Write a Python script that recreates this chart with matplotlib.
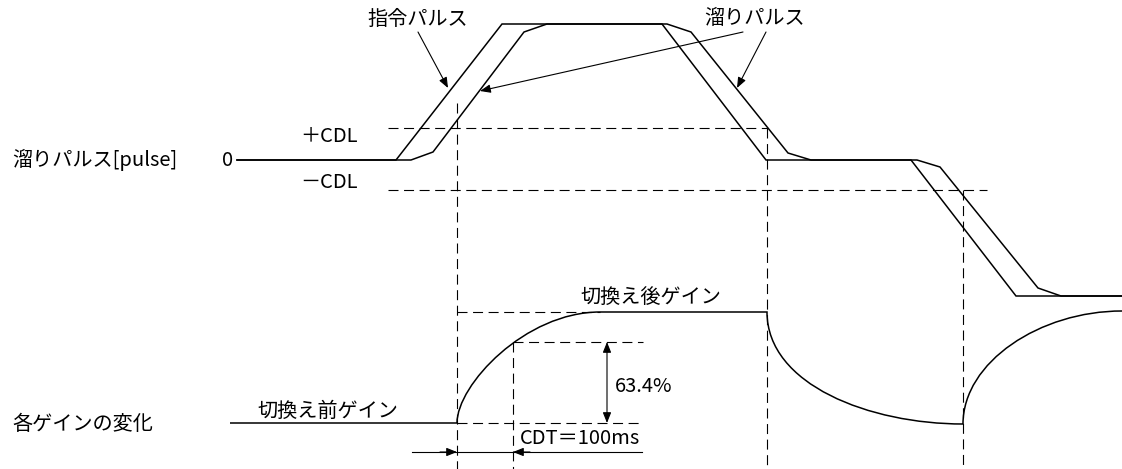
import matplotlib
matplotlib.use("Agg")
from matplotlib import pyplot as plt
from matplotlib.path import Path
from matplotlib.patches import PathPatch

plt.rcParams['font.family'] = ['Noto Sans CJK JP', 'DejaVu Sans']

# diagram units: x = time axis, y = screen position (drawn with y inverted)
cmd_x = [237, 396, 502, 662, 766, 911, 1016, 1122]   # 指令パルス
cmd_y = [160, 160, 24, 24, 160, 160, 296, 296]

droop_x = [237, 411, 433, 524, 547, 667, 691, 788, 811, 917, 940, 1038, 1061, 1122]  # 溜りパルス
droop_y = [160, 160, 152, 32, 24, 24, 32, 153, 160, 160, 167, 288, 296, 296]

# gain curve: start point, then segments (kind, points)
gain_start = (230, 423)
gain_segments = [
    ('line', [(457, 423)]),
    ('curve', [(457, 385), (525, 312), (600, 312)]),
    ('line', [(767, 312)]),
    ('curve', [(767, 385), (870, 424), (963, 424)]),
    ('curve', [(963, 362), (1040, 311), (1122, 311)]),
]

cdl_plus, cdl_minus = 128, 190
gain_before, gain_after, gain_634 = 423, 312, 342
t_switch = [457, 767, 963]
t_cdt = 513

fig = plt.figure(figsize=(11.22, 4.69), dpi=100)
ax = fig.add_axes([0, 0, 1, 1])
ax.set_xlim(0, 1122)
ax.set_ylim(469, 0)
ax.axis('off')

solid = dict(color='black', lw=1.1, solid_joinstyle='miter')
dash = dict(color='black', lw=0.8, linestyle=(0, (9, 5)))

ax.plot(cmd_x, cmd_y, **solid)
ax.plot(droop_x, droop_y, **solid)

verts = [gain_start]
codes = [Path.MOVETO]
for kind, pts in gain_segments:
    verts += pts
    codes += [Path.LINETO] if kind == 'line' else [Path.CURVE4] * 3
ax.add_patch(PathPatch(Path(verts, codes), fill=False, lw=1.1, ec='black'))

# dashed guide lines
ax.plot([388, 768], [cdl_plus, cdl_plus], **dash)
ax.plot([388, 987], [cdl_minus, cdl_minus], **dash)
ax.plot([t_switch[0], t_switch[0]], [103, 469], **dash)
ax.plot([t_switch[1], t_switch[1]], [cdl_plus, 469], **dash)
ax.plot([t_switch[2], t_switch[2]], [cdl_minus, 469], **dash)
ax.plot([t_cdt, t_cdt], [gain_634, 469], **dash)
ax.plot([t_switch[0], 600], [gain_after, gain_after], **dash)
ax.plot([t_cdt, 643], [gain_634, gain_634], **dash)
ax.plot([t_switch[0], 643], [gain_before, gain_before], **dash)

head = dict(arrowstyle='-|>,head_length=0.45,head_width=0.18', color='black',
            lw=0.8, mutation_scale=14, shrinkA=0, shrinkB=0)
head2 = dict(head, arrowstyle='<|-|>,head_length=0.45,head_width=0.18')

ax.annotate('', xy=(448, 88), xytext=(418, 32), arrowprops=head)
ax.annotate('', xy=(737, 88), xytext=(766, 32), arrowprops=head)
ax.annotate('', xy=(480, 91), xytext=(743, 32), arrowprops=head)
ax.annotate('', xy=(607, gain_634), xytext=(607, gain_before), arrowprops=head2)

# CDT dimension
ax.plot([412, 642], [452, 452], color='black', lw=0.8)
ax.annotate('', xy=(t_switch[0], 452), xytext=(440, 452), arrowprops=head)
ax.annotate('', xy=(t_cdt, 452), xytext=(530, 452), arrowprops=head)

fs = 14.5
ax.text(418, 19, '指令パルス', fontsize=fs, ha='center', va='center')
ax.text(755, 19, '溜りパルス', fontsize=fs, ha='center', va='center')
ax.text(12, 160, '溜りパルス[pulse]', fontsize=fs, ha='left', va='center')
ax.text(233, 160, '0', fontsize=fs, ha='right', va='center')
ax.text(300, 137, '＋CDL', fontsize=fs, ha='left', va='center')
ax.text(300, 182, '－CDL', fontsize=fs, ha='left', va='center')
ax.text(12, 425, '各ゲインの変化', fontsize=fs, ha='left', va='center')
ax.text(328, 411, '切換え前ゲイン', fontsize=fs, ha='center', va='center')
ax.text(651, 297, '切換え後ゲイン', fontsize=fs, ha='center', va='center')
ax.text(615, 387, '63.4%', fontsize=fs, ha='left', va='center')
ax.text(580, 438, 'CDT＝100ms', fontsize=fs, ha='center', va='center')

fig.savefig('out.png', dpi=100)
